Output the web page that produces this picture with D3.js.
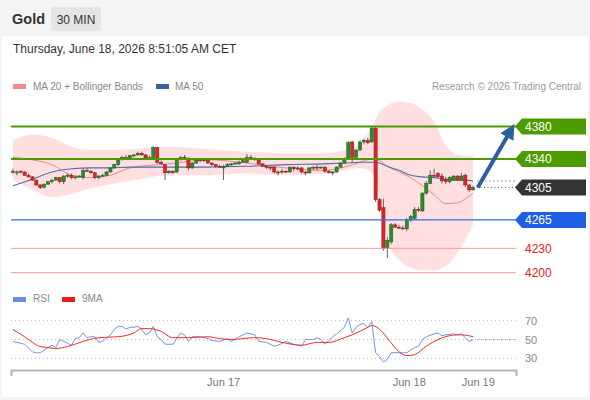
<!DOCTYPE html>
<html><head><meta charset="utf-8">
<script src="https://cdn.jsdelivr.net/npm/d3@7"></script>
<style>
html,body{margin:0;padding:0;background:#f4f4f4;}
svg{display:block;font-family:"Liberation Sans",Arial,sans-serif;}
</style></head><body>
<svg id="c" width="590" height="400"></svg>
<script>
// ---------- DATA ----------
const opens=[4325,4323,4325,4324,4320,4318,4314,4308,4305,4309,
4312,4314,4317,4312,4319,4320,4317,4318,4317,4326,
4325,4323,4317,4319,4320,4324,4329,4333,4339,4342,
4341,4344,4345,4347,4345,4341,4342,4354,4336,4333,
4323,4325,4324,4339,4342,4341,4329,4335,4339,4338,
4339,4335,4333,4331,4329,4331,4333,4334,4334,4336,
4336,4342,4341,4339,4334,4331,4330,4330,4324,4324,
4325,4324,4330,4328,4329,4324,4323,4329,4330,4329,
4330,4325,4323,4324,4330,4335,4341,4361,4342,4351,
4361,4363,4361,4378,4290,4280,4230,4238,4259,4256,
4255,4254,4265,4267,4278,4276,4298,4310,4320,4322,
4319,4315,4312,4314,4319,4314,4320,4308,4302];
const closes=[4324,4324,4324,4320,4318,4314,4308,4305,4309,4312,
4314,4317,4312,4319,4320,4317,4318,4319,4326,4325,
4323,4317,4319,4320,4324,4329,4333,4339,4342,4341,
4344,4345,4347,4345,4341,4342,4354,4336,4334,4323,
4325,4323,4339,4342,4341,4329,4335,4339,4338,4339,
4335,4333,4331,4330,4331,4333,4334,4335,4336,4338,
4342,4341,4339,4334,4331,4330,4329,4324,4323,4325,
4324,4330,4328,4329,4324,4323,4329,4330,4329,4330,
4325,4323,4324,4330,4335,4341,4360,4342,4351,4361,
4363,4360,4378,4290,4277,4230,4240,4259,4256,4255,
4254,4265,4269,4278,4277,4298,4310,4320,4319,4318,
4313,4312,4317,4319,4314,4319,4308,4302,4305];
const highs=[4328,4326,4326,4325,4322,4319,4315,4309,4310,4313,
4315,4318,4318,4320,4322,4322,4320,4320,4328,4329,
4326,4324,4320,4322,4325,4330,4334,4340,4344,4345,
4345,4346,4349,4349,4346,4344,4356,4355,4338,4334,
4326,4326,4340,4344,4345,4342,4336,4340,4341,4340,
4340,4336,4334,4333,4333,4335,4335,4336,4338,4339,
4346,4345,4342,4340,4335,4333,4331,4331,4326,4328,
4326,4331,4331,4331,4330,4325,4330,4331,4333,4331,
4331,4326,4325,4331,4336,4342,4362,4362,4352,4363,
4365,4366,4381,4379,4292,4291,4244,4261,4261,4259,
4258,4267,4271,4281,4281,4299,4313,4326,4328,4324,
4322,4318,4319,4320,4320,4323,4322,4309,4307];
const lows=[4322,4320,4322,4319,4317,4313,4307,4303,4304,4308,
4310,4313,4310,4309,4317,4315,4315,4317,4315,4324,
4322,4315,4315,4318,4319,4323,4328,4331,4338,4340,
4340,4342,4344,4344,4340,4340,4341,4334,4333,4314,
4322,4322,4323,4338,4339,4326,4328,4334,4336,4336,
4334,4331,4329,4329,4314,4330,4331,4333,4333,4335,
4335,4339,4338,4333,4330,4328,4326,4322,4320,4322,
4323,4323,4325,4326,4322,4320,4322,4326,4326,4328,
4323,4322,4320,4323,4329,4334,4340,4335,4341,4350,
4358,4358,4360,4287,4275,4227,4218,4235,4255,4254,
4253,4251,4262,4265,4275,4275,4296,4309,4317,4317,
4310,4309,4310,4313,4313,4313,4305,4299,4301];

// moving averages & Bollinger bands, read at these candle indices
const maIdx=[0,5,10,15,20,25,30,40,50,60,70,80,85,89,92,94,96,99,102,105,108,111,114,116,118];
const ma20=[4342,4339,4333,4320,4317,4320,4329,4334,4339,4335,4329,4326,4330,4336,4340,4338,4331,4324,4317,4307,4296,4285,4286,4291,4298];
const ma50=[4307,4315,4324,4328,4329,4329,4330,4330,4330,4331,4333,4334,4335,4336,4336,4335,4331,4326,4320,4318,4317,4315,4314,4314,4313];
const bbUpper=[4363,4370,4366,4355,4351,4351,4352,4355,4352,4349,4347,4347,4351,4360,4378,4398,4406,4411,4409,4401,4386,4357,4345,4344,4344];
const bbLower=[4314,4302,4293,4297,4304,4309,4313,4320,4320,4322,4320,4322,4326,4329,4324,4290,4240,4216,4206,4203,4203,4208,4225,4240,4259];

// key levels
const resistances=[4380,4340];
const lastPrice=[4305];
const pivot=[4265];
const supports=[4230,4200];

// RSI panel
const rsiIdx=[0,3,5,6,7,9,10,11,12,13,15,16,17,18,19,20,21,22,23,25,26,27,28,29,30,31,32,33,34,35,36,37,38,39,41,43,44,45,46,48,50,51,53,55,56,58,60,62,63,65,67,68,70,72,74,75,77,78,79,80,82,83,85,86,87,88,89,90,91,92,93,94,95,96,97,99,101,102,103,104,105,106,108,109,110,111,113,114,115,116,117,118];
const rsiVals=[48,45,37,36,36,41.5,44,41.5,50,48,44,51,52,57,52,53,53,47,48,55,61,64,64,61,63,63,64,61,55,57,64,53,50,45,45,57,55,48,53,53,51,49,48,51,48,53,57,55,48,47,43,44,48,45,43,50,50,52,50,45,53,56,63,73,57,63,66,67,63,69,36,32,26,29,36,36,36,39,41.5,43,50,53,56,57,54,55,56,55,56,52,48,50];
const ma9Idx=[0,3,5,7,9,11,14,18,22,27,31,33,35,38,41,45,50,53,56,62,65,69,74,78,81,85,87,91,92,101,103,106,109,114,115,118];
const ma9Vals=[60.6,53,47,42.6,41.5,40.5,42.6,48,52,53,57,61.6,61.6,58.5,52,52,53,51,50,52,51,47,44,47,47,52,55,63,65,33,34,43,50,55,55,53];
const rsiTicks=[30,50,70];
const rsiMid=[50];

// x axis ticks (candle index positions)
const xTickLabels=["Jun 17","Jun 18","Jun 19"];
const xTickIdx=[53.9,101.5,119.2];

// ---------- DRAW ----------
const svg=d3.select('#c');
const font='"Liberation Sans",Arial,sans-serif';
svg.append('rect').attr('x',0).attr('y',0).attr('width',590).attr('height',400).attr('fill','#f4f4f4');
svg.append('rect').attr('x',2).attr('y',36).attr('width',586).attr('height',361).attr('fill','#ffffff');

// header
svg.append('text').attr('x',12).attr('y',24).text('Gold').attr('font-weight','bold').attr('font-size',14.5).attr('fill','#333');
svg.append('rect').attr('x',51).attr('y',7).attr('width',50).attr('height',24).attr('fill','#e5e5e5').attr('rx',2);
svg.append('text').attr('x',76).attr('y',23.5).attr('text-anchor','middle').text('30 MIN').attr('font-size',12).attr('fill','#333');
svg.append('text').attr('x',13).attr('y',53).text('Thursday, June 18, 2026 8:51:05 AM CET').attr('font-size',12).attr('fill','#333');

// legend
svg.append('rect').attr('x',13).attr('y',84).attr('width',13).attr('height',5).attr('fill','#f48a8a');
svg.append('text').attr('x',33).attr('y',90).text('MA 20 + Bollinger Bands').attr('font-size',10).attr('fill','#888');
svg.append('rect').attr('x',156).attr('y',84).attr('width',13).attr('height',5).attr('fill','#3d62a3');
svg.append('text').attr('x',175).attr('y',90).text('MA 50').attr('font-size',10).attr('fill','#888');
svg.append('text').attr('x',581).attr('y',90).attr('text-anchor','end').text('Research © 2026 Trading Central').attr('font-size',10).attr('fill','#999');

// scales
const x=d3.scaleLinear().domain([-0.5,129]).range([11,516]);
const y=d3.scaleLinear().domain([4200,4380]).range([272.7,126.5]);
const yr=d3.scaleLinear().domain([30,70]).range([358.4,320.7]);
const idx=d3.range(closes.length);

const band=maIdx.map((d,k)=>({i:d,u:bbUpper[k],l:bbLower[k],a:ma20[k],b:ma50[k]}));
svg.append('path').datum(band)
  .attr('d',d3.area().x(d=>x(d.i)).y0(d=>y(d.l)).y1(d=>y(d.u)).curve(d3.curveMonotoneX))
  .attr('fill','#ffdfdf');
svg.append('path').datum(band)
  .attr('d',d3.line().x(d=>x(d.i)).y(d=>y(d.a)).curve(d3.curveMonotoneX))
  .attr('fill','none').attr('stroke','#f58585').attr('stroke-width',1);
svg.append('path').datum(band)
  .attr('d',d3.line().x(d=>x(d.i)).y(d=>y(d.b)).curve(d3.curveMonotoneX))
  .attr('fill','none').attr('stroke','#4a6fb3').attr('stroke-width',1.1);

// candles
const cg=svg.append('g').selectAll('g').data(idx).join('g');
cg.append('line').attr('x1',i=>x(i)).attr('x2',i=>x(i))
  .attr('y1',i=>y(highs[i])).attr('y2',i=>y(lows[i])).attr('stroke','#666').attr('stroke-width',1);
cg.append('rect').attr('x',i=>x(i)-1.6).attr('width',3.2)
  .attr('y',i=>y(Math.max(opens[i],closes[i])))
  .attr('height',i=>Math.max(1,Math.abs(y(opens[i])-y(closes[i]))))
  .attr('fill',i=>closes[i]>=opens[i]?'#2b8a2b':'#d92626')
  .attr('stroke',i=>closes[i]>=opens[i]?'#1d5e1d':'#8e1a1a').attr('stroke-width',0.5);

// level lines
const x0=x.range()[0], x1=x.range()[1];
svg.append('g').selectAll('line').data(resistances).join('line')
  .attr('x1',x0).attr('x2',x1).attr('y1',d=>y(d)).attr('y2',d=>y(d)).attr('stroke','#4c9c00').attr('stroke-width',2);
svg.append('g').selectAll('line').data(pivot).join('line')
  .attr('x1',x0).attr('x2',x1).attr('y1',d=>y(d)).attr('y2',d=>y(d)).attr('stroke','#2f6ce8').attr('stroke-width',1.3);
svg.append('g').selectAll('line').data(supports).join('line')
  .attr('x1',x0).attr('x2',x1).attr('y1',d=>y(d)).attr('y2',d=>y(d)).attr('stroke','#f59a9a').attr('stroke-width',1);
// dotted extensions
const lastI=closes.length-1;
svg.append('g').selectAll('line').data(lastPrice).join('line')
  .attr('x1',x(lastI+1)).attr('x2',x1).attr('y1',d=>y(d)).attr('y2',d=>y(d))
  .attr('stroke','#555').attr('stroke-dasharray','1,2.5');
svg.append('line').attr('x1',x(lastI+1)).attr('x2',x1).attr('y1',y(ma50[ma50.length-1])).attr('y2',y(ma50[ma50.length-1]))
  .attr('stroke','#6b8fd6').attr('stroke-dasharray','1.5,2.5');

// arrow
{
  const sx=x(lastI+1.2), sy=y(lastPrice[0]);
  const tx=x(128.6), ty=y(resistances[0]+3);
  const dx=tx-sx, dy=ty-sy, L=Math.hypot(dx,dy), ux=dx/L, uy=dy/L;
  const hl=15, hw=7.5;
  const bx=tx-ux*hl, by=ty-uy*hl;
  svg.append('line').attr('x1',sx).attr('y1',sy).attr('x2',bx+ux*2).attr('y2',by+uy*2)
    .attr('stroke','#2e5f9f').attr('stroke-width',4);
  svg.append('path').attr('d',`M${tx},${ty}L${bx-uy*hw},${by+ux*hw}L${bx+uy*hw},${by-ux*hw}Z`).attr('fill','#2e5f9f');
}

// tags
function tag(v,fill){
  const cy=y(v);
  svg.append('path').attr('d',`M515,${cy}L522,${cy-8}L586,${cy-8}L586,${cy+8}L522,${cy+8}Z`).attr('fill',fill);
  svg.append('text').attr('x',525).attr('y',cy+4.3).text(v).attr('font-size',12).attr('fill','#fff');
}
resistances.forEach(v=>tag(v,'#4c9c00'));
lastPrice.forEach(v=>tag(v,'#333333'));
pivot.forEach(v=>tag(v,'#1f5fe6'));
svg.append('g').selectAll('text').data(supports).join('text')
  .attr('x',525).attr('y',d=>y(d)+4.3).text(d=>d).attr('font-size',12).attr('fill','#e82020');

// RSI panel
svg.append('rect').attr('x',13).attr('y',297).attr('width',13).attr('height',5).attr('fill','#6b8de6');
svg.append('text').attr('x',33).attr('y',302).text('RSI').attr('font-size',10).attr('fill','#888');
svg.append('rect').attr('x',62).attr('y',297).attr('width',13).attr('height',5).attr('fill','#f01818');
svg.append('text').attr('x',82).attr('y',302).text('9MA').attr('font-size',10).attr('fill','#888');

svg.append('g').selectAll('line').data(rsiTicks).join('line')
  .attr('x1',x0).attr('x2',x1).attr('y1',d=>yr(d)).attr('y2',d=>yr(d))
  .attr('stroke','#bbb').attr('stroke-dasharray','1,3');
svg.append('g').selectAll('text').data(rsiTicks).join('text')
  .attr('x',525).attr('y',d=>yr(d)+4).text(d=>d).attr('font-size',11).attr('fill','#888');

const rsiPts=rsiIdx.map((d,k)=>[d,rsiVals[k]]);
const ma9Pts=ma9Idx.map((d,k)=>[d,ma9Vals[k]]);
svg.append('path').datum(rsiPts).attr('d',d3.line().x(d=>x(d[0])).y(d=>yr(d[1])))
  .attr('fill','none').attr('stroke','#7394e8').attr('stroke-width',1);
svg.append('path').datum(ma9Pts).attr('d',d3.line().x(d=>x(d[0])).y(d=>yr(d[1])).curve(d3.curveMonotoneX))
  .attr('fill','none').attr('stroke','#f42a2a').attr('stroke-width',1);
svg.append('g').selectAll('line').data(rsiMid).join('line')
  .attr('x1',x(lastI+1)).attr('x2',x1).attr('y1',d=>yr(d)).attr('y2',d=>yr(d))
  .attr('stroke','#7394e8').attr('stroke-dasharray','1.5,2.5');

// x axis
const ax=svg.append('g').attr('transform','translate(0,370)')
  .call(d3.axisBottom(x).tickValues(xTickIdx).tickFormat((d,k)=>xTickLabels[k]).tickSizeInner(0).tickSizeOuter(6).tickPadding(8));
ax.select('.domain').attr('stroke','#b5b5b5').attr('stroke-width',2);
ax.selectAll('text').attr('font-size',11).attr('fill','#777').attr('font-family',font);
</script>
</body></html>
